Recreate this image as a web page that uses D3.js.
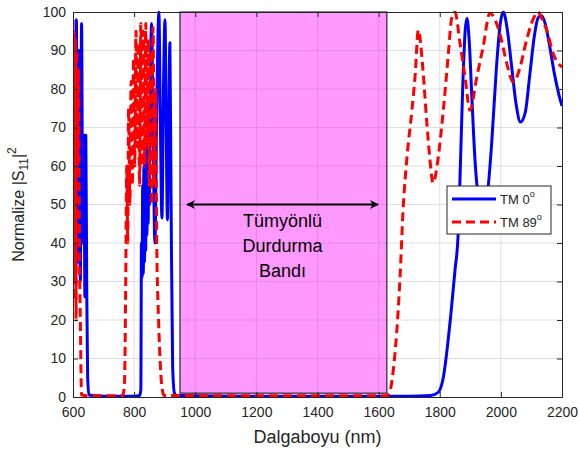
<!DOCTYPE html>
<html lang="tr">
<head>
<meta charset="UTF-8">
<title>Normalize |S11|^2</title>
<style>
  body { margin: 0; background: #fff; font-family: 'Liberation Sans', Arial, sans-serif; }
  svg text { fill: #262626; }
</style>
</head>
<body>
<div id="chart"></div>
<script src="https://cdn.jsdelivr.net/npm/d3@7"></script>
<script>
// --- data ---
var tm0X = [600, 603, 607, 611, 615, 620, 624, 628, 632, 636, 639, 642, 645, 648, 652, 700, 800, 818,
            822, 824, 826, 828, 830, 832, 834, 836, 838, 840, 842, 844, 846, 848, 850, 853, 857, 862, 868,
            874, 881, 886, 891, 896, 901, 905, 909, 913, 917, 921, 926, 932, 940, 1200, 1500, 1700, 1770,
            1795, 1810, 1837, 1850, 1860, 1866, 1875, 1883, 1889, 1896, 1905, 1915, 1928, 1941, 1955, 1970,
            1985, 1998, 2008, 2020, 2035, 2050, 2064, 2080, 2095, 2110, 2122, 2133, 2145, 2160, 2175, 2190, 2200];
var tm0Y = [55, 92, 40, 98, 35, 90, 30, 97, 40, 68, 26, 68, 27, 5, 0.5, 0.2, 0.2, 0.4,
            2, 40, 31, 55, 32, 60, 35, 65, 38, 68, 42, 72, 45, 75, 50, 80, 97, 70, 40,
            75, 100, 70, 46.5, 80, 98, 70, 46, 70, 92, 50, 8, 1, 0.4, 0.2, 0.2, 0.2, 0.4,
            1.2, 4.4, 22, 33, 42, 56, 80, 95, 98.4, 93, 78, 62, 51, 48, 52, 66,
            85, 97, 100, 96, 86, 76, 71.4, 74, 84, 94, 98.5, 99, 97, 91, 84, 78.5, 75.6];

var tm89X = [600, 602, 604, 606, 608, 610, 612, 615, 618, 621, 624, 628, 650, 760, 765, 769, 772, 776,
             779, 782, 786, 790, 794, 798, 802, 806, 810, 814, 818, 822, 826, 830, 834, 838, 842, 846,
             850, 854, 858, 862, 866, 870, 874, 880, 886, 892, 898, 1200, 1500, 1625, 1635, 1648, 1670,
             1680, 1692, 1709, 1719, 1730, 1745, 1757, 1768, 1778, 1794, 1806, 1817, 1828, 1839, 1850,
             1866, 1883, 1899, 1921, 1942, 1964, 1986, 2002, 2019, 2041, 2063, 2084, 2105, 2121, 2136,
             2150, 2172, 2200];
var tm89Y = [98, 30, 95, 25, 93, 20, 90, 60, 85, 40, 20, 0.5, 0.3, 0.3, 1, 5, 25, 60,
             40, 75, 50, 82, 55, 88, 60, 95, 65, 92, 55, 97, 60, 95, 60, 97, 65, 93,
             55, 90, 50, 96, 55, 80, 40, 20, 8, 2, 0.4, 0.3, 0.3, 0.3, 1, 7, 31,
             48.6, 61.6, 74.5, 83, 95.3, 85, 72, 61.6, 55.6, 61.6, 70, 79, 89, 98.4, 100,
             92, 83, 74.5, 83, 91, 99.7, 97, 92.7, 86.7, 81.8, 85.7, 92.7, 98, 100, 98,
             95.3, 89, 85.7];

var xTicks = [600, 800, 1000, 1200, 1400, 1600, 1800, 2000, 2200];
var yTicks = [0, 10, 20, 30, 40, 50, 60, 70, 80, 90, 100];
var bandRange = [950, 1627];
var arrowRange = [973, 1598];
var arrowLevel = 50;
var bandLabel = ['Tümyönlü', 'Durdurma', 'Bandı'];
var seriesNames = ['0', '89'];

// --- layout ---
var W = 579, H = 450;
var svg = d3.select('#chart').append('svg').attr('width', W).attr('height', H);

var x = d3.scaleLinear().domain([600, 2200]).range([73, 562]);
var y = d3.scaleLinear().domain([0, 100]).range([397, 12]);

// grid
svg.append('g').selectAll('line').data(xTicks.slice(1, -1)).enter().append('line')
  .attr('x1', d => x(d)).attr('x2', d => x(d)).attr('y1', y(0)).attr('y2', y(100))
  .attr('stroke', '#dfdfdf').attr('stroke-width', 1);
svg.append('g').selectAll('line').data(yTicks.slice(1, -1)).enter().append('line')
  .attr('x1', x(600)).attr('x2', x(2200)).attr('y1', d => y(d)).attr('y2', d => y(d))
  .attr('stroke', '#dfdfdf').attr('stroke-width', 1);

// clip
svg.append('clipPath').attr('id', 'clip').append('rect')
  .attr('x', x(600)).attr('y', y(100) - 1.5).attr('width', x(2200) - x(600)).attr('height', y(0) - y(100) + 1.5);

var line = d3.line().x(d => x(d[0])).y(d => y(d[1])).curve(d3.curveMonotoneX);
var tm0 = d3.zip(tm0X, tm0Y);
var tm89 = d3.zip(tm89X, tm89Y);

var plot = svg.append('g').attr('clip-path', 'url(#clip)');
plot.append('path').datum(tm0).attr('d', line)
  .attr('fill', 'none').attr('stroke', '#0000ff').attr('stroke-width', 3).attr('stroke-linejoin', 'round');
plot.append('path').datum(tm89).attr('d', line)
  .attr('fill', 'none').attr('stroke', '#ff0000').attr('stroke-width', 3).attr('stroke-dasharray', '9,5');

// band
svg.append('rect')
  .attr('x', x(bandRange[0])).attr('y', y(100))
  .attr('width', x(bandRange[1]) - x(bandRange[0])).attr('height', y(1) - y(100))
  .attr('fill', '#ff00ff').attr('fill-opacity', 0.4)
  .attr('stroke', '#000').attr('stroke-width', 1);

// arrow
var defs = svg.append('defs');
defs.append('marker').attr('id', 'ah').attr('viewBox', '0 0 10 10').attr('refX', 9).attr('refY', 5)
  .attr('markerWidth', 11).attr('markerHeight', 9).attr('markerUnits', 'userSpaceOnUse').attr('orient', 'auto-start-reverse')
  .append('path').attr('d', 'M0,0 L10,5 L0,10 L3,5 Z').attr('fill', '#000');
svg.append('line')
  .attr('x1', x(arrowRange[0])).attr('x2', x(arrowRange[1])).attr('y1', y(arrowLevel)).attr('y2', y(arrowLevel))
  .attr('stroke', '#000').attr('stroke-width', 2)
  .attr('marker-start', 'url(#ah)').attr('marker-end', 'url(#ah)');

var midX = (x(arrowRange[0]) + x(arrowRange[1])) / 2;
svg.append('g').selectAll('text').data(bandLabel).enter().append('text')
  .attr('x', midX).attr('y', (d, i) => 227 + i * 25)
  .attr('text-anchor', 'middle').attr('font-size', 18).style('fill', '#000')
  .text(d => d);

// axes box
var xAxis = d3.axisBottom(x).tickValues(xTicks).tickFormat(d3.format('d')).tickSize(-5).tickPadding(10);
var yAxis = d3.axisLeft(y).tickValues(yTicks).tickSize(-5).tickPadding(7);
var gx = svg.append('g').attr('transform', `translate(0,${y(0)})`).call(xAxis);
var gy = svg.append('g').attr('transform', `translate(${x(600)},0)`).call(yAxis);
var gxt = svg.append('g').attr('transform', `translate(0,${y(100)})`).call(d3.axisTop(x).tickValues(xTicks).tickSize(-5).tickFormat(''));
var gyr = svg.append('g').attr('transform', `translate(${x(2200)},0)`).call(d3.axisRight(y).tickValues(yTicks).tickSize(-5).tickFormat(''));
[gx, gy, gxt, gyr].forEach(g => {
  g.select('.domain').attr('stroke', '#262626');
  g.selectAll('.tick line').attr('stroke', '#262626');
  g.selectAll('text').attr('font-size', 14).attr('font-family', "'Liberation Sans', Arial, sans-serif").style('fill', '#262626');
});

// axis labels
svg.append('text').attr('x', (x(600) + x(2200)) / 2).attr('y', 443)
  .attr('text-anchor', 'middle').attr('font-size', 18).text('Dalgaboyu (nm)');
var yl = svg.append('text').attr('transform', `translate(24,${(y(0) + y(100)) / 2}) rotate(-90)`)
  .attr('text-anchor', 'middle').attr('font-size', 16);
yl.append('tspan').text('Normalize |S');
yl.append('tspan').attr('font-size', 12).attr('dy', 4).text('11');
yl.append('tspan').attr('dy', -4).text('|');
yl.append('tspan').attr('font-size', 12).attr('dy', -8).text('2');

// legend
var lg = svg.append('g').attr('transform', 'translate(447,186)');
lg.append('rect').attr('width', 104).attr('height', 48).attr('fill', '#fff').attr('stroke', '#262626').attr('stroke-width', 1);
var items = [{c: '#0000ff', dash: null, n: seriesNames[0]}, {c: '#ff0000', dash: '9,5', n: seriesNames[1]}];
items.forEach((it, i) => {
  var yy = 13 + i * 23;
  lg.append('line').attr('x1', 5).attr('x2', 49).attr('y1', yy).attr('y2', yy)
    .attr('stroke', it.c).attr('stroke-width', 3).attr('stroke-dasharray', it.dash);
  var t = lg.append('text').attr('x', 53).attr('y', yy + 5).attr('font-size', 13);
  t.append('tspan').text('TM ' + it.n);
  t.append('tspan').attr('font-size', 9).attr('dy', -7).text('o');
});
</script>
</body>
</html>
